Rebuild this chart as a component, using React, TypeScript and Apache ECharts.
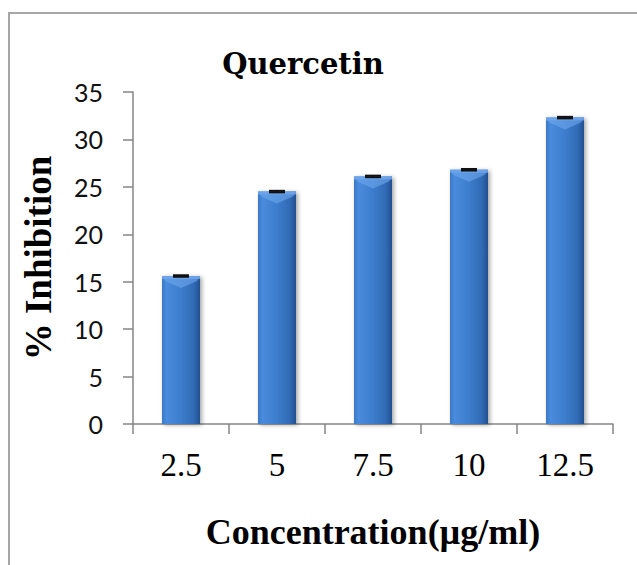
import React, { useEffect, useRef } from "react";
import * as echarts from "echarts";

// Quercetin inhibition at each concentration
const concentrations = ["2.5", "5", "7.5", "10", "12.5"];
const inhibition = [15.6, 24.5, 26.1, 26.8, 32.3];
const errors = [0.08, 0.08, 0.08, 0.08, 0.08];
const yTicks = [0, 5, 10, 15, 20, 25, 30, 35];

const BAR_W = 38;
const AXIS_GRAY = "#868686";

export default function App() {
  const ref = useRef<HTMLDivElement>(null);

  useEffect(() => {
    if (!ref.current) return;
    const chart = echarts.init(ref.current, undefined, { renderer: "svg" });

    const barFill = new echarts.graphic.LinearGradient(0, 0, 1, 0, [
      { offset: 0, color: "#3a78c6" },
      { offset: 0.12, color: "#4a8bdc" },
      { offset: 0.5, color: "#3d7dcd" },
      { offset: 0.85, color: "#3069b4" },
      { offset: 1, color: "#23508f" },
    ]);

    chart.setOption({
      animation: false,
      backgroundColor: "#ffffff",
      title: {
        text: "Quercetin",
        left: 298,
        top: 44,
        textAlign: "center",
        textStyle: {
          fontFamily: "DejaVu Serif",
          fontWeight: "bold",
          fontSize: 29,
          color: "#000",
        },
      },
      graphic: [
        {
          type: "rect",
          shape: { x: 9, y: 13, width: 700, height: 700 },
          style: { fill: "none", stroke: "#a6a6a6", lineWidth: 2 },
          silent: true,
        },
      ],
      grid: { left: 133, right: 24, top: 92, bottom: 141 },
      xAxis: {
        type: "category",
        data: concentrations,
        name: "Concentration(µg/ml)",
        nameLocation: "middle",
        nameGap: 90,
        nameTextStyle: {
          fontFamily: "Liberation Serif",
          fontWeight: "bold",
          fontSize: 36,
          color: "#000",
        },
        axisLine: { lineStyle: { color: AXIS_GRAY, width: 1.5 } },
        axisTick: { show: true, length: 10, lineStyle: { color: AXIS_GRAY, width: 1.5 } },
        axisLabel: {
          margin: 24,
          fontFamily: "Liberation Serif",
          fontSize: 33,
          color: "#000",
        },
      },
      yAxis: {
        type: "value",
        min: yTicks[0],
        max: yTicks[yTicks.length - 1],
        interval: 5,
        name: "% Inhibition",
        nameLocation: "middle",
        nameGap: 76,
        nameRotate: 90,
        nameTextStyle: {
          fontFamily: "Liberation Serif",
          fontWeight: "bold",
          fontSize: 37,
          color: "#000",
        },
        axisLine: { show: true, lineStyle: { color: AXIS_GRAY, width: 1.5 } },
        axisTick: { show: true, length: 10, lineStyle: { color: AXIS_GRAY, width: 1.5 } },
        splitLine: { show: false },
        axisLabel: {
          margin: 30,
          fontFamily: "Lato",
          fontSize: 25,
          color: "#111",
        },
      },
      series: [
        {
          type: "bar",
          data: inhibition,
          barWidth: BAR_W,
          itemStyle: {
            color: barFill,
            shadowBlur: 4,
            shadowOffsetX: 2,
            shadowOffsetY: 1,
            shadowColor: "rgba(0,0,0,0.35)",
          },
          z: 2,
        },
        {
          // bevelled highlight on each bar's top face
          type: "custom",
          data: inhibition.map((v, i) => [i, v]),
          z: 3,
          silent: true,
          renderItem: (params: any, api: any) => {
            const top = api.coord([api.value(0), api.value(1)]);
            const x0 = top[0] - BAR_W / 2;
            const x1 = top[0] + BAR_W / 2;
            const y = top[1];
            return {
              type: "group",
              children: [
                {
                  type: "polygon",
                  shape: {
                    points: [
                      [x0, y],
                      [x1, y],
                      [x1 - 3, y + 5],
                      [top[0], y + 12],
                      [x0 + 3, y + 5],
                    ],
                  },
                  style: { fill: "rgba(110,168,236,0.6)" },
                },
                {
                  type: "rect",
                  shape: { x: x0, y: y, width: BAR_W, height: 3 },
                  style: { fill: "rgba(110,165,235,0.85)" },
                },
              ],
            };
          },
        },
        {
          // error bars
          type: "custom",
          data: inhibition.map((v, i) => [i, v + errors[i], v - errors[i]]),
          z: 4,
          silent: true,
          renderItem: (params: any, api: any) => {
            const hi = api.coord([api.value(0), api.value(1)]);
            const lo = api.coord([api.value(0), api.value(2)]);
            const half = 8;
            const st = { stroke: "#111", lineWidth: 2 };
            return {
              type: "group",
              children: [
                { type: "line", shape: { x1: hi[0] - half, y1: hi[1], x2: hi[0] + half, y2: hi[1] }, style: st },
                { type: "line", shape: { x1: lo[0] - half, y1: lo[1], x2: lo[0] + half, y2: lo[1] }, style: st },
                { type: "line", shape: { x1: hi[0], y1: hi[1], x2: lo[0], y2: lo[1] }, style: st },
              ],
            };
          },
        },
      ],
    });

    return () => chart.dispose();
  }, []);

  return (
    <div
      ref={ref}
      style={{ position: "absolute", left: 0, top: 0, width: 637, height: 565 }}
    />
  );
}
